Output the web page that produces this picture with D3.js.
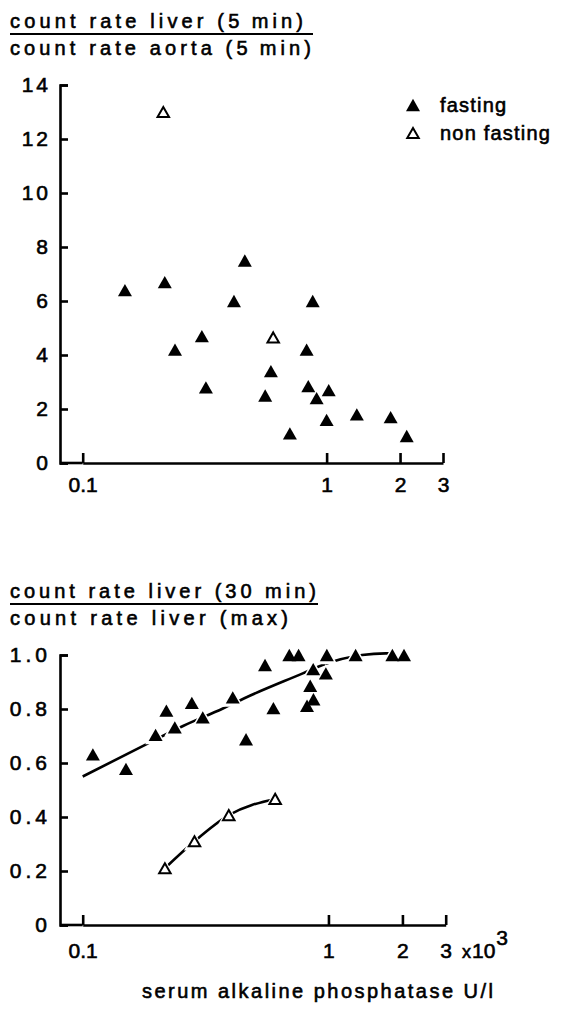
<!DOCTYPE html>
<html>
<head>
<meta charset="utf-8">
<script src="https://cdn.jsdelivr.net/npm/d3@7"></script>
<style>
  html, body { margin: 0; padding: 0; background: #fff; }
  svg { display: block; }
  text { font-family: "Liberation Sans", Arial, Helvetica, sans-serif; fill: #000; stroke: #000; stroke-width: 0.6px; }
</style>
</head>
<body>
<div id="chart"></div>
<script>
// x values in 10^3 U/l
var xTicks = [0.1, 1, 2, 3];
var xTickLabels = ['0.1', '1', '2', '3'];

// top panel: liver/aorta count rate ratio at 5 min
var topTicks = [0, 2, 4, 6, 8, 10, 12, 14];
var topFasting = [
  [0.149, 6.4], [0.217, 6.7], [0.462, 7.5], [0.417, 6.0], [0.877, 6.0],
  [0.308, 4.7], [0.239, 4.2], [0.828, 4.2], [0.591, 3.4], [0.320, 2.8],
  [0.841, 2.85], [1.02, 2.7], [0.560, 2.5], [0.91, 2.4], [1.33, 1.8],
  [1.83, 1.7], [1.0, 1.6], [0.707, 1.1], [2.13, 1.0]
];
var topNonFasting = [[0.214, 13.0], [0.604, 4.65]];

// bottom panel: liver 30 min / liver max
var bottomTicks = [0, 0.2, 0.4, 0.6, 0.8, 1.0];
var bottomFasting = [
  [0.552, 0.963], [0.693, 1.0], [0.756, 1.0], [0.985, 1.0], [1.29, 1.0],
  [1.82, 1.0], [2.03, 1.0], [0.867, 0.948], [0.976, 0.932], [0.843, 0.886],
  [0.869, 0.836], [0.818, 0.812], [0.408, 0.843], [0.278, 0.823], [0.219, 0.794],
  [0.308, 0.769], [0.597, 0.803], [0.237, 0.732], [0.198, 0.704], [0.462, 0.688],
  [0.110, 0.632], [0.150, 0.578]
];
var bottomNonFasting = [[0.216, 0.21], [0.285, 0.31], [0.393, 0.407], [0.607, 0.467]];

// fitted curves
var fastingFit = [
  [0.1, 0.55], [0.182, 0.67], [0.256, 0.737], [0.372, 0.802], [0.455, 0.84],
  [0.786, 0.932], [0.946, 0.963], [1.37, 1.0], [1.71, 1.006], [1.82, 1.006]
];
var nonFastingFit = [[0.216, 0.21], [0.285, 0.31], [0.393, 0.407], [0.607, 0.467]];

var legendItems = [['fasting', true], ['non fasting', false]];

var W = 567, H = 1012;
var axisX = 60;

var svg = d3.select('#chart').append('svg')
  .attr('width', W)
  .attr('height', H);

svg.append('rect').attr('width', W).attr('height', H).attr('fill', '#fff');

// triangle centred on its bounding box
function tri(s) {
  var h = s * 0.88;
  return 'M0,' + (-h / 2) + 'L' + (s / 2) + ',' + (h / 2) + 'L' + (-s / 2) + ',' + (h / 2) + 'Z';
}

function title(y0, num, den, numW, denW) {
  svg.append('text')
    .attr('x', 10).attr('y', y0)
    .attr('font-size', 20)
    .attr('textLength', numW).attr('lengthAdjust', 'spacing')
    .text(num);
  svg.append('line')
    .attr('x1', 10).attr('x2', 10 + Math.max(numW, denW) + 2)
    .attr('y1', y0 + 6).attr('y2', y0 + 6)
    .attr('stroke', '#000').attr('stroke-width', 2);
  svg.append('text')
    .attr('x', 10).attr('y', y0 + 27)
    .attr('font-size', 20)
    .attr('textLength', denW).attr('lengthAdjust', 'spacing')
    .text(den);
}

function panel(opt) {
  var x = d3.scaleLog().domain([0.1, 3]).range(opt.xRange);
  var y = d3.scaleLinear().domain(opt.yDomain).range(opt.yRange);
  var g = svg.append('g');

  // y axis, ticks pointing inwards
  var yAxis = d3.axisLeft(y)
    .tickValues(opt.yTicks)
    .tickSizeInner(-8)
    .tickSizeOuter(-8)
    .tickPadding(9)
    .tickFormat(opt.yFormat);
  var ga = g.append('g')
    .attr('transform', 'translate(' + axisX + ',0)')
    .call(yAxis);
  ga.selectAll('text')
    .attr('font-size', 21)
    .attr('letter-spacing', opt.yLs)
    .attr('font-family', '"Liberation Sans", Arial, sans-serif');

  // x axis (log), ticks upwards
  var xAxis = d3.axisBottom(x)
    .tickValues(xTicks)
    .tickSizeInner(-10)
    .tickSizeOuter(0)
    .tickPadding(opt.xPad)
    .tickFormat(function(d, i) { return xTickLabels[i]; });
  var gx = g.append('g')
    .attr('transform', 'translate(0,' + y(0) + ')')
    .call(xAxis);
  gx.selectAll('text')
    .attr('font-size', 21)
    .attr('font-family', '"Liberation Sans", Arial, sans-serif');
  gx.append('line')
    .attr('x1', axisX).attr('x2', x(0.1))
    .attr('stroke', '#000');

  g.selectAll('.domain, .tick line, line').attr('stroke-width', 2.6).attr('stroke', '#000');

  var line = d3.line()
    .x(function(d) { return x(d[0]); })
    .y(function(d) { return y(d[1]); })
    .curve(d3.curveMonotoneX);

  (opt.fits || []).forEach(function(f) {
    g.append('path')
      .attr('d', line(f))
      .attr('fill', 'none')
      .attr('stroke', '#000')
      .attr('stroke-width', 2.6);
  });

  var all = opt.fasting.concat(opt.nonFasting);
  // white halos break the fitted lines around the markers
  g.selectAll('.halo').data(all).enter()
    .append('path')
    .attr('d', tri(21))
    .attr('fill', '#fff')
    .attr('transform', function(d) { return 'translate(' + x(d[0]) + ',' + y(d[1]) + ')'; });

  g.selectAll('.fast').data(opt.fasting).enter()
    .append('path')
    .attr('d', tri(14))
    .attr('fill', '#000')
    .attr('transform', function(d) { return 'translate(' + x(d[0]) + ',' + y(d[1]) + ')'; });

  g.selectAll('.nonfast').data(opt.nonFasting).enter()
    .append('path')
    .attr('d', tri(11.5))
    .attr('fill', '#fff')
    .attr('stroke', '#000')
    .attr('stroke-width', 2)
    .attr('transform', function(d) { return 'translate(' + x(d[0]) + ',' + y(d[1]) + ')'; });

  return { x: x, y: y };
}

title(28, 'count rate liver (5\u2009min)', 'count rate aorta (5\u2009min)', 293, 301);
title(598, 'count rate liver (30 min)', 'count rate liver (max)', 306, 278);

panel({
  xRange: [82.7, 443],
  yDomain: [0, 14], yRange: [463, 85],
  yTicks: topTicks,
  yLs: 3,
  yFormat: d3.format('d'),
  xPad: 14.5,
  fasting: topFasting,
  nonFasting: topNonFasting
});

panel({
  xRange: [82.7, 445.7],
  yDomain: [0, 1], yRange: [925, 655],
  yTicks: bottomTicks,
  yLs: 4,
  yFormat: function(d) { return d === 0 ? '0' : d3.format('.1f')(d); },
  xPad: 18.5,
  fasting: bottomFasting,
  nonFasting: bottomNonFasting,
  fits: [fastingFit, nonFastingFit]
});

// x10^3 multiplier
var mult = svg.append('text')
  .attr('x', 462).attr('y', 958)
  .attr('font-size', 21);
mult.append('tspan').attr('font-size', 18).text('x');
mult.append('tspan').attr('dx', 1).text('10');
mult.append('tspan').attr('dy', -13).attr('dx', 1).text('3');

svg.append('text')
  .attr('x', 142).attr('y', 998)
  .attr('font-size', 20)
  .attr('textLength', 351).attr('lengthAdjust', 'spacing')
  .text('serum alkaline phosphatase U/l');

// legend
var lg = svg.append('g');
legendItems.forEach(function(d, i) {
  var yy = 105 + i * 28;
  lg.append('path')
    .attr('d', d[1] ? tri(14) : tri(11.5))
    .attr('transform', 'translate(413,' + yy + ')')
    .attr('fill', d[1] ? '#000' : '#fff')
    .attr('stroke', d[1] ? 'none' : '#000')
    .attr('stroke-width', 2);
  lg.append('text')
    .attr('x', 440).attr('y', yy + 7)
    .attr('font-size', 20)
    .attr('letter-spacing', 1.2)
    .text(d[0]);
});
</script>
</body>
</html>
